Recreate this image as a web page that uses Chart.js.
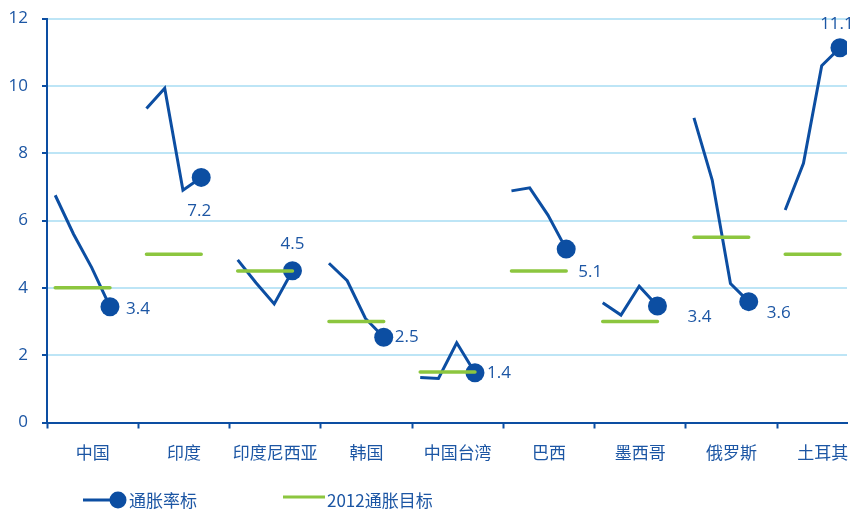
<!DOCTYPE html>
<html>
<head>
<meta charset="utf-8">
<script src="https://cdn.jsdelivr.net/npm/chart.js@4"></script>
<style>
  html, body { margin: 0; padding: 0; background: #fff; overflow: hidden; }
</style>
</head>
<body>
<canvas id="grafico" width="851" height="512"></canvas>
<script>
// datos
const categorias = ['中国', '印度', '印度尼西亚', '韩国', '中国台湾', '巴西', '墨西哥', '俄罗斯', '土耳其'];
const inflacion = [
    [6.75, 5.6, 4.6, 3.44],
    [9.33, 9.93, 6.9, 7.28],
    [4.83, 4.15, 3.52, 4.51],
    [4.73, 4.21, 3.09, 2.53],
    [1.34, 1.31, 2.37, 1.48],
    [6.88, 6.97, 6.16, 5.15],
    [3.56, 3.19, 4.05, 3.46],
    [9.05, 7.2, 4.13, 3.59],
    [6.31, 7.7, 10.6, 11.13]
];
const etiquetas = ['3.4', '7.2', '4.5', '2.5', '1.4', '5.1', '3.4', '3.6', '11.1'];
const metas2012 = [4, 5, 4.5, 3, 1.5, 4.5, 3, 5.5, 5];
const leyenda = ['通胀率标', '2012通胀目标'];

// estilos
const AZUL = '#0c4ea2';
const AZUL_TXT = '#1c56a4';
const VERDE = '#8cc63f';
const GRID = '#bde5f6';
const FONT_NUM = "'Open Sans', sans-serif";
const FONT_CJK = "'Noto Sans CJK SC', sans-serif";

// posicion de cada punto dentro de su categoria
const offsets = [0.09, 0.29, 0.49, 0.69];
const xMax = 800 / 91.25;

// etiqueta de valor: [dx, dy, align]
const posEtiquetas = [
    [16, 2, 'left'], [-2, 34, 'center'], [0, -27, 'center'], [11, 0, 'left'], [12, 0, 'left'],
    [12, 23, 'left'], [30, 11, 'left'], [18, 12, 'left'], [-3, -24, 'center']
];

const puntosInflacion = [];
const finales = new Set();
inflacion.forEach((serie, i) => {
    serie.forEach((v, j) => {
        if (j === serie.length - 1) finales.add(puntosInflacion.length);
        puntosInflacion.push({ x: i + offsets[j], y: v });
    });
    puntosInflacion.push({ x: i + 0.85, y: null });
});

const puntosMeta = [];
metas2012.forEach((m, i) => {
    puntosMeta.push({ x: i + offsets[0], y: m });
    puntosMeta.push({ x: i + offsets[3], y: m });
    puntosMeta.push({ x: i + 0.85, y: null });
});

const etiquetasPlugin = {
    id: 'etiquetasValor',
    afterDatasetsDraw(chart) {
        const meta = chart.getDatasetMeta(1);
        const c = chart.ctx;
        c.save();
        c.font = '17px ' + FONT_NUM;
        c.fillStyle = AZUL_TXT;
        c.textBaseline = 'middle';
        let k = 0;
        meta.data.forEach((el, idx) => {
            if (!finales.has(idx)) return;
            const [dx, dy, align] = posEtiquetas[k];
            c.textAlign = align;
            c.fillText(etiquetas[k], el.x + dx, el.y + dy);
            k++;
        });
        c.restore();
    }
};

const leyendaPlugin = {
    id: 'leyendaManual',
    afterDraw(chart) {
        const c = chart.ctx;
        c.save();
        c.lineWidth = 3;
        c.strokeStyle = AZUL;
        c.beginPath(); c.moveTo(83, 500); c.lineTo(117, 500); c.stroke();
        c.fillStyle = AZUL;
        c.beginPath(); c.arc(118, 500, 8.5, 0, Math.PI * 2); c.fill();
        c.strokeStyle = VERDE;
        c.lineWidth = 3;
        c.beginPath(); c.moveTo(283, 497); c.lineTo(325, 497); c.stroke();
        c.font = '17px ' + FONT_CJK;
        c.fillStyle = AZUL_TXT;
        c.textBaseline = 'middle';
        c.textAlign = 'left';
        c.fillText(leyenda[0], 129, 501);
        c.fillText(leyenda[1], 327, 501);
        c.restore();
    }
};

new Chart(document.getElementById('grafico'), {
    type: 'line',
    data: {
        datasets: [
            {
                label: leyenda[1],
                data: puntosMeta,
                borderColor: VERDE,
                borderWidth: 3.5,
                borderCapStyle: 'round',
                pointRadius: 0,
                spanGaps: false,
                order: 0
            },
            {
                label: leyenda[0],
                data: puntosInflacion,
                borderColor: AZUL,
                borderWidth: 3,
                backgroundColor: AZUL,
                pointBackgroundColor: AZUL,
                pointBorderWidth: 0,
                pointRadius: ctx => finales.has(ctx.dataIndex) ? 9.5 : 0,
                pointHoverRadius: ctx => finales.has(ctx.dataIndex) ? 9.5 : 0,
                spanGaps: false,
                tension: 0,
                order: 1
            }
        ]
    },
    options: {
        responsive: false,
        devicePixelRatio: 1,
        animation: false,
        layout: { padding: { top: 18.5, right: 4, left: 0, bottom: 0 } },
        plugins: { legend: { display: false }, tooltip: { enabled: false } },
        scales: {
            x: {
                type: 'linear',
                min: 0,
                max: xMax,
                afterBuildTicks: scale => {
                    const t = [];
                    for (let i = 0; i < categorias.length; i++) {
                        t.push({ value: i });
                        t.push({ value: i + 0.5 });
                    }
                    scale.ticks = t;
                },
                afterFit: scale => {
                    scale.height = 89.5;
                    scale.paddingLeft = 0;
                    scale.paddingRight = 0;
                },
                grid: {
                    drawOnChartArea: false,
                    drawTicks: true,
                    tickLength: 6,
                    tickWidth: 2,
                    tickColor: ctx => (ctx.tick && Number.isInteger(ctx.tick.value)) ? AZUL : 'rgba(0,0,0,0)'
                },
                border: { color: AZUL, width: 2 },
                ticks: {
                    autoSkip: false,
                    maxRotation: 0,
                    minRotation: 0,
                    padding: 14,
                    color: AZUL_TXT,
                    font: { family: FONT_CJK, size: 17 },
                    callback: v => Number.isInteger(v) ? '' : categorias[Math.floor(v)]
                }
            },
            y: {
                min: 0,
                max: 12,
                afterFit: scale => {
                    scale.width = 47;
                    scale.paddingTop = 0;
                    scale.paddingBottom = 0;
                },
                grid: {
                    color: GRID,
                    lineWidth: 2,
                    tickLength: 5,
                    tickColor: AZUL,
                    tickWidth: 2
                },
                border: { color: AZUL, width: 2 },
                ticks: {
                    stepSize: 2,
                    padding: 14,
                    color: AZUL_TXT,
                    font: { family: FONT_NUM, size: 17 }
                }
            }
        }
    },
    plugins: [etiquetasPlugin, leyendaPlugin]
});
</script>
</body>
</html>
